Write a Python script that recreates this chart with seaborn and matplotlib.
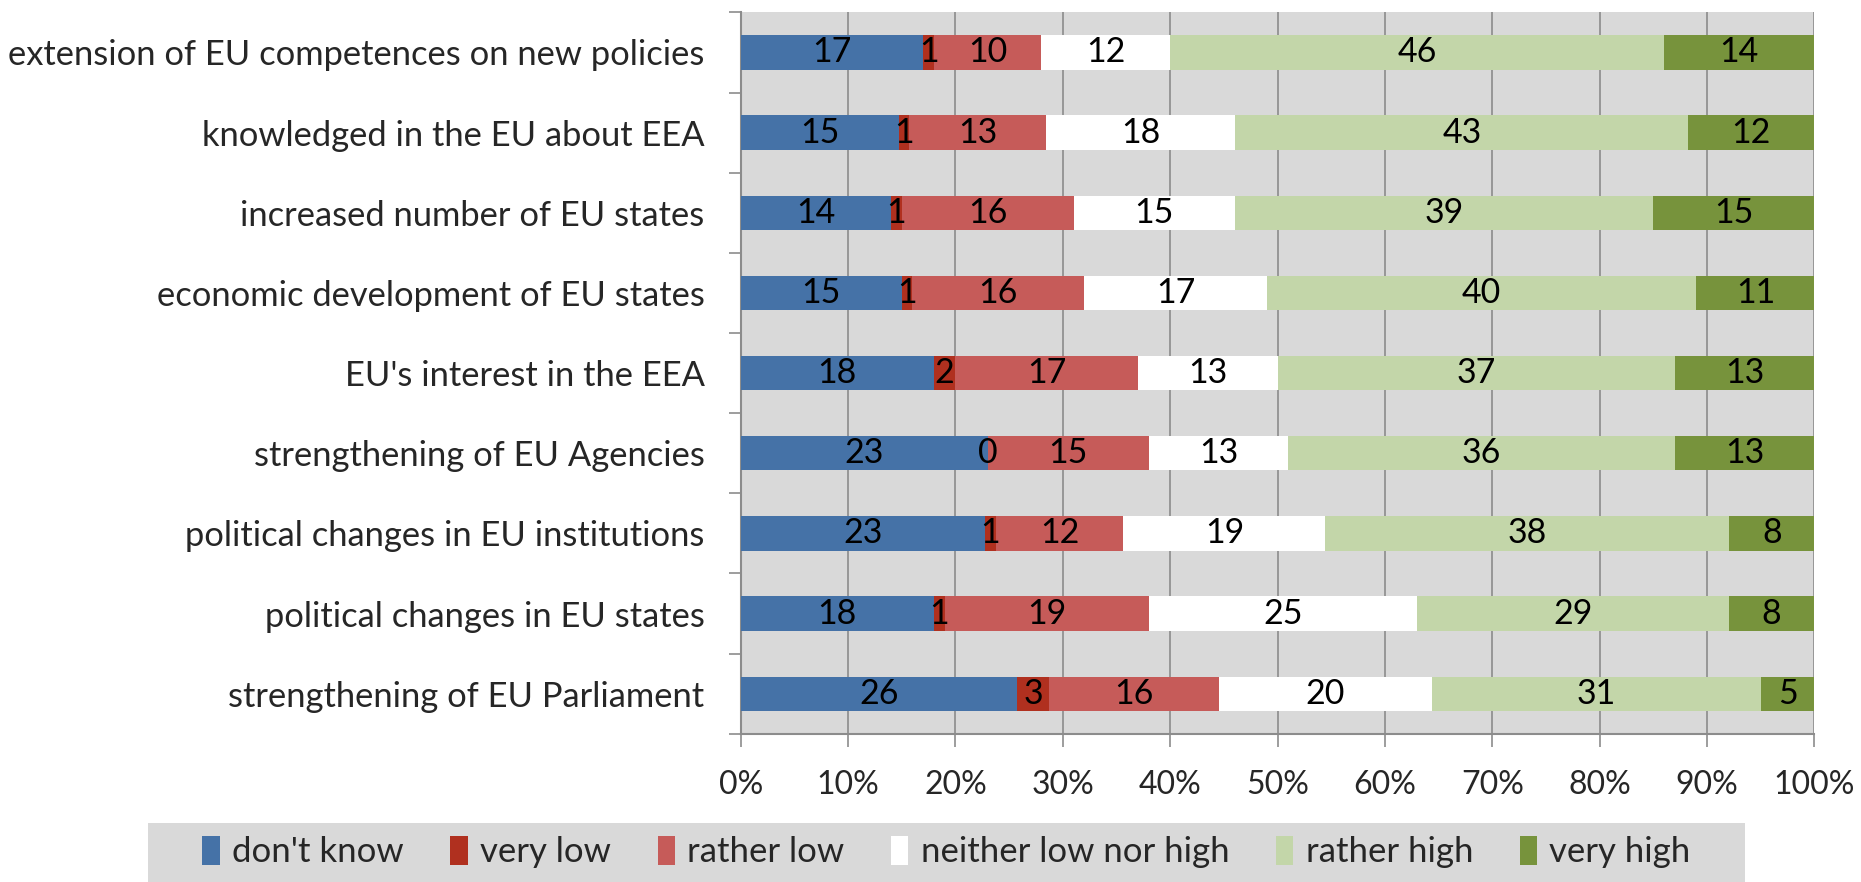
import numpy as np
import pandas as pd
import matplotlib
matplotlib.use("Agg")
import matplotlib.pyplot as plt
from matplotlib.patches import Patch, Rectangle
from matplotlib.ticker import FixedLocator
import seaborn as sns

categories = [
    "extension of EU competences on new policies",
    "knowledged in the EU about EEA",
    "increased number of EU states",
    "economic development of EU states",
    "EU's interest in the EEA",
    "strengthening of EU Agencies",
    "political changes in EU institutions",
    "political changes in EU states",
    "strengthening of EU Parliament",
]
series_names = ["don't know", "very low", "rather low", "neither low nor high", "rather high", "very high"]
dont_know = [17, 15, 14, 15, 18, 23, 23, 18, 26]
very_low = [1, 1, 1, 1, 2, 0, 1, 1, 3]
rather_low = [10, 13, 16, 16, 17, 15, 12, 19, 16]
neither = [12, 18, 15, 17, 13, 13, 19, 25, 20]
rather_high = [46, 43, 39, 40, 37, 36, 38, 29, 31]
very_high = [14, 12, 15, 11, 13, 13, 8, 8, 5]
xtick_labels = ["0%", "10%", "20%", "30%", "40%", "50%", "60%", "70%", "80%", "90%", "100%"]

colors = ["#4572A7", "#B0301F", "#C65B59", "#FFFFFF", "#C3D6A9", "#77933C"]

sns.set_theme(style="white")
plt.rcParams["font.family"] = ["Lato", "DejaVu Sans"]

vals = np.array([dont_know, very_low, rather_low, neither, rather_high, very_high], dtype=float)
pct = vals / vals.sum(axis=0) * 100.0
cum = np.cumsum(pct, axis=0)

fig = plt.figure(figsize=(18.61, 8.82), dpi=100)
ax = fig.add_axes([0.398, 0.168, 0.577, 0.818])
ax.set_facecolor("#D9D9D9")

# draw layers from the widest cumulative to the narrowest
for i in range(len(series_names) - 1, -1, -1):
    df = pd.DataFrame({"cat": categories, "val": cum[i]})
    sns.barplot(data=df, x="val", y="cat", orient="h", color=colors[i],
                saturation=1, width=0.43, ax=ax, zorder=3, linewidth=0,
                order=categories)

# labels centred in each segment
for i in range(len(series_names)):
    starts = cum[i] - pct[i]
    for j in range(len(categories)):
        ax.text(starts[j] + pct[i][j] / 2, j, f"{int(vals[i][j])}", ha="center", va="center",
                fontsize=24.5, color="black", zorder=5)

ax.set_xlim(0, 100)
ax.set_ylim(len(categories) - 0.5, -0.5)
ax.set_xticks(np.arange(0, 101, 10))
ax.set_xticklabels(xtick_labels, fontsize=23)
ax.xaxis.grid(True, color="#8C8C8C", linewidth=1.2, zorder=0)
ax.set_axisbelow(True)
ax.set_xlabel("")
ax.set_ylabel("")
ax.tick_params(axis="x", which="major", length=9, width=1.2, color="#8C8C8C", pad=17, direction="out", bottom=True)
ax.tick_params(axis="y", which="major", length=0, pad=26, labelsize=24.8)
ax.yaxis.set_minor_locator(FixedLocator(np.arange(-0.5, len(categories), 1.0)))
ax.tick_params(axis="y", which="minor", length=9, width=1.2, color="#8C8C8C", direction="out", left=True)

for s in ["top", "right"]:
    ax.spines[s].set_visible(False)
for s in ["left", "bottom"]:
    ax.spines[s].set_color("#8C8C8C")
    ax.spines[s].set_linewidth(1.5)

# legend background box
fig.patches.append(Rectangle((148 / 1861, 0.0), (1745 - 148) / 1861, 59 / 882,
                             transform=fig.transFigure, facecolor="#D9D9D9",
                             edgecolor="none", zorder=0))

handles = [Patch(facecolor=c, edgecolor="none") for c in colors]
leg = fig.legend(handles, series_names, loc="center", bbox_to_anchor=(0.5086, 0.034), ncol=6,
                 fontsize=25, frameon=False,
                 handlelength=0.5, handleheight=0.9, handletextpad=0.35, columnspacing=1.35,
                 borderpad=0.45, borderaxespad=0)

fig.savefig("out.png", dpi=100)
